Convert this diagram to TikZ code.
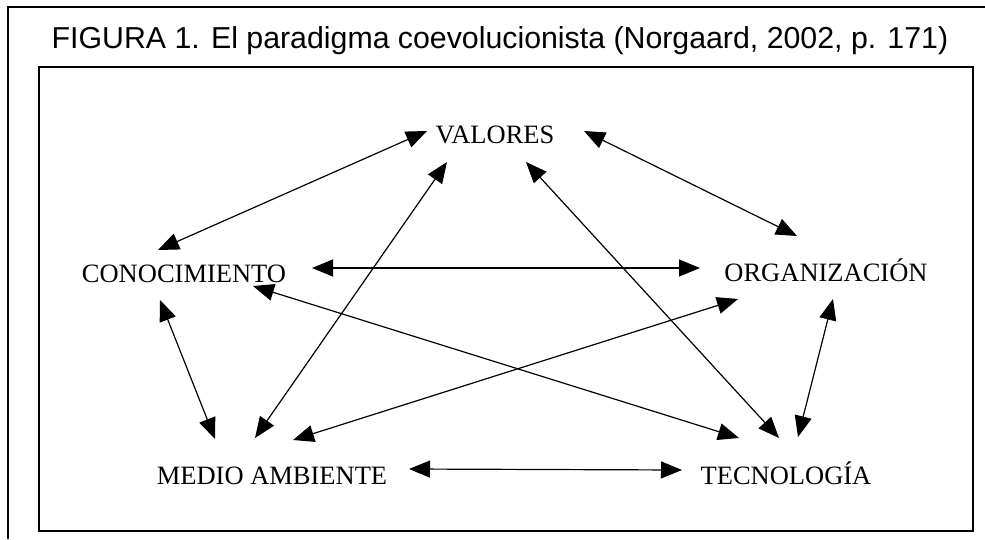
\documentclass[tikz,border=0pt]{standalone}
\usepackage{fontspec}
\setmainfont{Liberation Serif}
\newfontfamily\titlefont{Liberation Sans}
\usetikzlibrary{arrows.meta}

\tikzset{
  factor/.style={anchor=base, inner sep=0pt, font=\fontsize{26.5}{30}\selectfont},
  link/.style={{Triangle[length=21pt,width=17pt]}-{Triangle[length=21pt,width=17pt]}, line width=1.2pt}
}

\begin{document}
\begin{tikzpicture}[x=1pt,y=-1pt]
  \useasboundingbox (0,0) rectangle (985,539);
  %%%%%%%%%%%%%Frames and title%%%%%%%%%%%%%%%%%%%%%%
  \draw[line width=1.5pt] (8,539) -- (8,7) -- (985,7);
  \draw[line width=1.2pt] (39,67) rectangle (973,531);
  \node[anchor=base, inner sep=0pt, font=\titlefont\fontsize{30.3}{34}\selectfont] (title) at (500,48)
    {FIGURA 1. El paradigma coevolucionista (Norgaard, 2002, p. 171)};

  %%%%%%%%%%%%%The five factors%%%%%%%%%%%%%%%%%%%%%%
  \node[factor] (val) at (495,143) {VALORES};
  \node[factor] (con) at (184,282) {CONOCIMIENTO};
  \node[factor] (org) at (826,281) {ORGANIZACIÓN};
  \node[factor] (med) at (272,484) {MEDIO AMBIENTE};
  \node[factor] (tec) at (786,484) {TECNOLOGÍA};

  %%%%%%%%%%%%%Links between factors%%%%%%%%%%%%%%%%%%%%%%
  \draw[link] ([shift={(-68,-12)}]val.base) -- ([shift={(-26,-32)}]con.base);
  \draw[link] ([shift={(89,-12)}]val.base) -- ([shift={(-29,-45)}]org.base);
  \draw[link] ([shift={(-48,19)}]val.base) -- ([shift={(-17,-46)}]med.base);
  \draw[link] ([shift={(31,19)}]val.base) -- ([shift={(-7,-46)}]tec.base);
  \draw[link] ([shift={(128,-14)}]con.base) -- ([shift={(-126,-13)}]org.base);
  \draw[link] ([shift={(-24,18)}]con.base) -- ([shift={(-57,-45)}]med.base);
  \draw[link] ([shift={(69,4)}]con.base) -- ([shift={(-47,-46)}]tec.base);
  \draw[link] ([shift={(-88,18)}]org.base) -- ([shift={(21,-44)}]med.base);
  \draw[link] ([shift={(7,18)}]org.base) -- ([shift={(12,-47)}]tec.base);
  \draw[link] ([shift={(137,-15)}]med.base) -- ([shift={(-104,-14)}]tec.base);
\end{tikzpicture}
\end{document}
